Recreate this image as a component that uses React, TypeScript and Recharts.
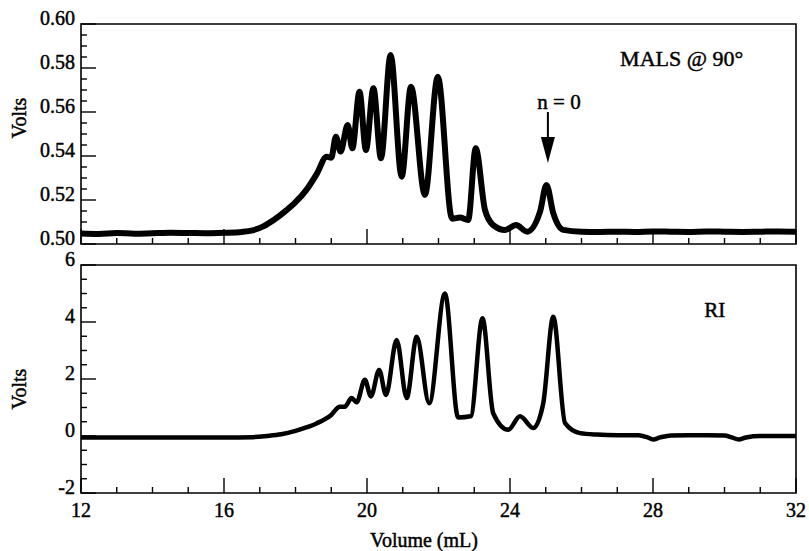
import React from 'react';
import { LineChart, Line, XAxis, YAxis, ReferenceArea, ReferenceDot, Label } from 'recharts';

const FONT = '"Liberation Serif", "Times New Roman", serif';
const TEXT_STROKE = 0.45;

// MALS @ 90° detector trace (volume mL, volts)
const malsVolume = [12.0, 12.5, 13.0, 13.5, 14.0, 14.5, 15.0, 15.5, 16.0, 16.5, 16.8, 17.1, 17.4, 17.7, 18.0, 18.3, 18.6, 18.87, 19.0, 19.13, 19.26, 19.46, 19.59, 19.79, 19.97, 20.18, 20.39, 20.66, 20.97, 21.23, 21.62, 21.98, 22.38, 22.6, 22.83, 23.04, 23.3, 23.53, 23.86, 24.17, 24.48, 24.84, 25.02, 25.21, 25.49, 26.0, 26.5, 27.0, 27.5, 28.0, 28.5, 29.0, 29.5, 30.0, 30.5, 31.0, 31.5, 32.0];
const malsVolts = [0.5048, 0.5046, 0.505, 0.5047, 0.5049, 0.5051, 0.505, 0.5049, 0.5051, 0.5055, 0.5062, 0.508, 0.511, 0.5147, 0.519, 0.5245, 0.532, 0.5397, 0.5392, 0.5488, 0.542, 0.5541, 0.5435, 0.5692, 0.5427, 0.5708, 0.539, 0.5859, 0.5306, 0.5715, 0.5223, 0.576, 0.5115, 0.512, 0.5109, 0.5435, 0.5155, 0.5086, 0.5064, 0.5086, 0.5056, 0.5147, 0.5268, 0.514, 0.5064, 0.5056, 0.5055, 0.5056, 0.5055, 0.5057, 0.5056, 0.5055, 0.5057, 0.5056, 0.5055, 0.5056, 0.5057, 0.5056];

// RI detector trace (volume mL, volts)
const riVolume = [12.0, 13.0, 14.0, 15.0, 16.0, 16.8, 17.2, 17.6, 18.0, 18.3, 18.6, 19.0, 19.24, 19.38, 19.57, 19.71, 19.94, 20.11, 20.34, 20.53, 20.83, 21.11, 21.39, 21.74, 22.18, 22.55, 22.9, 23.23, 23.53, 23.95, 24.28, 24.65, 24.93, 25.21, 25.54, 25.96, 26.43, 27.0, 27.6, 27.85, 28.0, 28.2, 28.5, 29.0, 29.5, 30.0, 30.2, 30.4, 30.6, 31.0, 31.5, 32.0];
const riVolts = [-0.05, -0.05, -0.05, -0.05, -0.05, -0.04, 0.0, 0.06, 0.18, 0.3, 0.45, 0.74, 1.03, 1.03, 1.33, 1.18, 1.97, 1.39, 2.32, 1.44, 3.37, 1.33, 3.48, 1.15, 5.0, 0.65, 0.69, 4.13, 0.8, 0.22, 0.69, 0.28, 1.15, 4.18, 0.45, 0.1, 0.05, 0.03, 0.03, -0.05, -0.12, -0.05, 0.02, 0.03, 0.03, 0.02, -0.05, -0.12, -0.05, 0.0, 0.0, 0.0];

const xTicks = [12, 13, 14, 15, 16, 17, 18, 19, 20, 21, 22, 23, 24, 25, 26, 27, 28, 29, 30, 31, 32];
const xTickLabels = [12, 16, 20, 24, 28, 32];
const malsTicks = [0.5, 0.505, 0.51, 0.515, 0.52, 0.525, 0.53, 0.535, 0.54, 0.545, 0.55, 0.555, 0.56, 0.565, 0.57, 0.575, 0.58, 0.585, 0.59, 0.595, 0.6];
const malsTickLabels = [0.5, 0.52, 0.54, 0.56, 0.58, 0.6];
const riTicks = [-2, -1.5, -1, -0.5, 0, 0.5, 1, 1.5, 2, 2.5, 3, 3.5, 4, 4.5, 5, 5.5, 6];
const riTickLabels = [-2, 0, 2, 4, 6];

const malsData = malsVolume.map((v, i) => ({ v, y: malsVolts[i] }));
const riData = riVolume.map((v, i) => ({ v, y: riVolts[i] }));

const isIn = (arr: number[], val: number) => arr.some((a) => Math.abs(a - val) < 1e-9);

const textProps = { fontFamily: FONT, fill: '#000', stroke: '#000', strokeWidth: TEXT_STROKE };

const XTick = (props: any) => {
  const { x, y, payload, showLabel } = props;
  const major = isIn(xTickLabels, payload.value);
  return (
    <g>
      <line x1={x} x2={x} y1={y} y2={y - (major ? 15 : 6)} stroke="#000" strokeWidth={1.4} />
      {showLabel && major && (
        <text x={x} y={y + 24} textAnchor="middle" fontSize={20} {...textProps}>
          {payload.value}
        </text>
      )}
    </g>
  );
};

const YTick = (props: any) => {
  const { x, y, payload, majors, fmt } = props;
  const major = isIn(majors, payload.value);
  return (
    <g>
      <line x1={x} x2={x + (major ? 15 : 6)} y1={y} y2={y} stroke="#000" strokeWidth={1.4} />
      {major && (
        <text x={x - 6} y={y + 1} textAnchor="end" fontSize={20} {...textProps}>
          {fmt(payload.value)}
        </text>
      )}
    </g>
  );
};

const textShape = (txt: string, anchor: string, size: number, dy: number) => (p: any) => (
  <text x={p.cx} y={p.cy + dy} textAnchor={anchor} fontSize={size} {...textProps}>
    {txt}
  </text>
);

const arrowShape = (p: any) => (
  <g>
    <line x1={p.cx} x2={p.cx} y1={p.cy - 51} y2={p.cy - 22} stroke="#000" strokeWidth={2} />
    <path d={`M${p.cx - 7},${p.cy - 26} L${p.cx + 7},${p.cy - 26} L${p.cx},${p.cy} Z`} fill="#000" />
  </g>
);

export default function App() {
  return (
    <div style={{ position: 'absolute', left: 0, top: 0, width: 809, height: 551, background: '#fff' }}>
      <div style={{ position: 'absolute', left: 0, top: 0 }}>
        <LineChart width={809} height={260} data={malsData} margin={{ top: 24, right: 13, bottom: 0, left: 0 }}>
          <XAxis
            dataKey="v"
            type="number"
            domain={[12, 32]}
            ticks={xTicks}
            interval={0}
            height={16}
            axisLine={false}
            tickLine={false}
            tickSize={0}
            tickMargin={0}
            tick={(p: any) => <XTick {...p} showLabel={false} />}
          />
          <YAxis
            type="number"
            domain={[0.5, 0.6]}
            ticks={malsTicks}
            interval={0}
            width={81}
            axisLine={false}
            tickLine={false}
            tickSize={0}
            tickMargin={0}
            tick={(p: any) => <YTick {...p} majors={malsTickLabels} fmt={(v: number) => v.toFixed(2)} />}
            label={<Label content={() => (
              <text x={19} y={118} transform="rotate(-90, 19, 118)" textAnchor="middle" dominantBaseline="central" fontSize={20} {...textProps}>Volts</text>
            )} />}
          />
          <ReferenceArea x1={12} x2={32} y1={0.5} y2={0.6} fill="none" stroke="#000" strokeWidth={1.6} ifOverflow="visible" />
          <Line dataKey="y" type="monotone" stroke="#000" strokeWidth={6} dot={false} isAnimationActive={false} />
          <ReferenceDot x={27.08} y={0.5845} r={0} shape={textShape('MALS @ 90°', 'start', 22, 8)} />
          <ReferenceDot x={25.37} y={0.5645} r={0} shape={textShape('n = 0', 'middle', 21, 7)} />
          <ReferenceDot x={25.06} y={0.5368} r={0} shape={arrowShape} />
        </LineChart>
      </div>
      <div style={{ position: 'absolute', left: 0, top: 0 }}>
        <LineChart width={809} height={551} data={riData} margin={{ top: 265, right: 13, bottom: 0, left: 0 }}>
          <XAxis
            dataKey="v"
            type="number"
            domain={[12, 32]}
            ticks={xTicks}
            interval={0}
            height={58}
            axisLine={false}
            tickLine={false}
            tickSize={0}
            tickMargin={0}
            tick={(p: any) => <XTick {...p} showLabel={true} />}
            label={<Label content={() => (
              <text x={424} y={547} textAnchor="middle" fontSize={20} {...textProps}>Volume (mL)</text>
            )} />}
          />
          <YAxis
            type="number"
            domain={[-2, 6]}
            ticks={riTicks}
            interval={0}
            width={81}
            axisLine={false}
            tickLine={false}
            tickSize={0}
            tickMargin={0}
            tick={(p: any) => <YTick {...p} majors={riTickLabels} fmt={(v: number) => String(v)} />}
            label={<Label content={() => (
              <text x={19} y={389} transform="rotate(-90, 19, 389)" textAnchor="middle" dominantBaseline="central" fontSize={20} {...textProps}>Volts</text>
            )} />}
          />
          <ReferenceArea x1={12} x2={32} y1={-2} y2={6} fill="none" stroke="#000" strokeWidth={1.6} ifOverflow="visible" />
          <Line dataKey="y" type="monotone" stroke="#000" strokeWidth={4.5} dot={false} isAnimationActive={false} />
          <ReferenceDot x={29.73} y={4.42} r={0} shape={textShape('RI', 'middle', 21, 7)} />
        </LineChart>
      </div>
    </div>
  );
}
